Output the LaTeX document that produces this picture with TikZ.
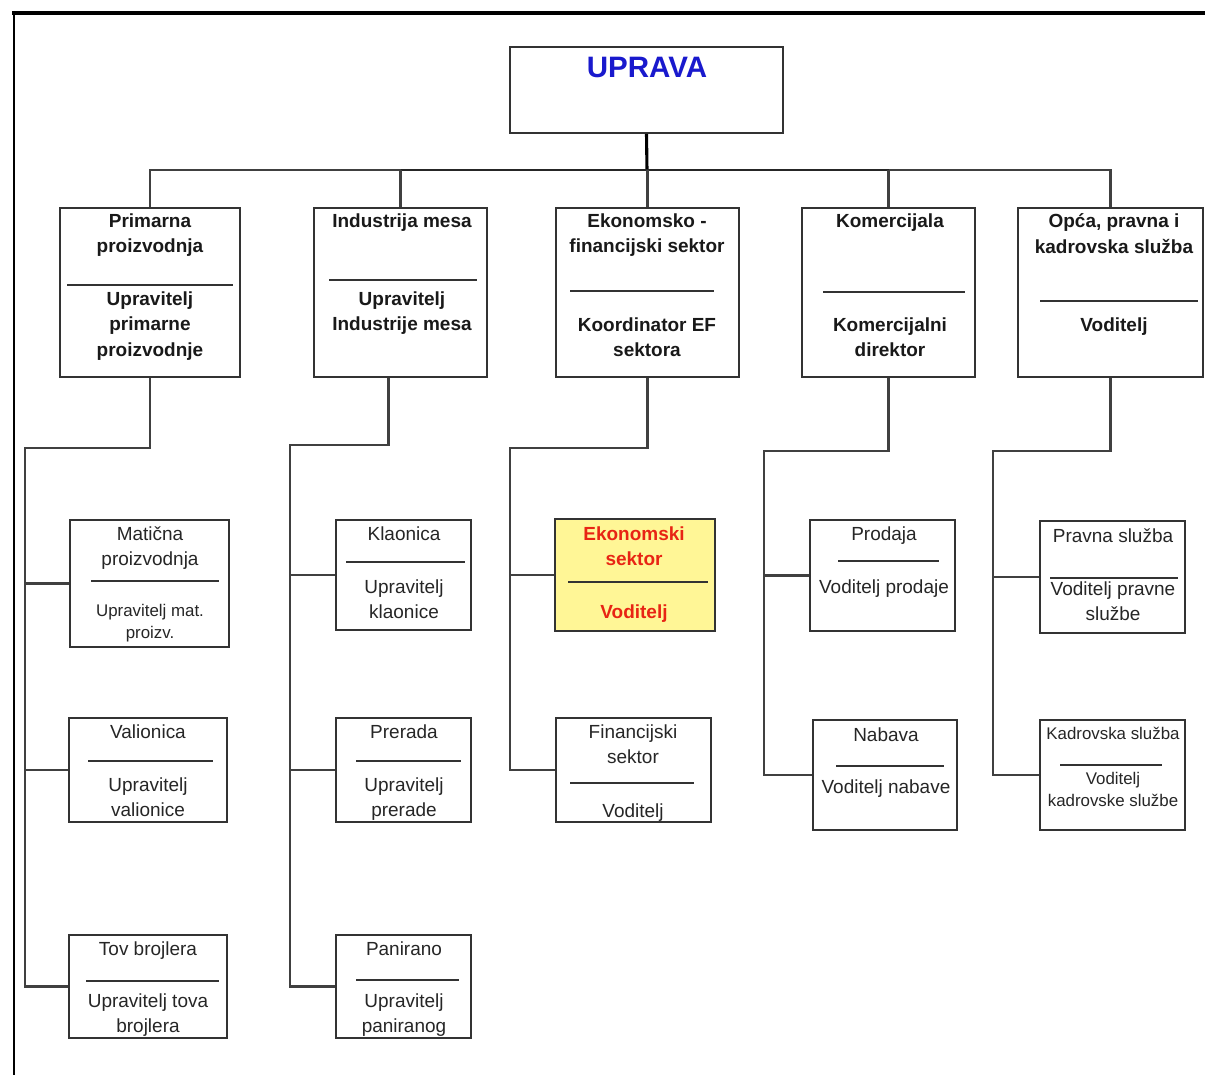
\documentclass[tikz,border=0pt]{standalone}
\usepackage{fontspec}
\setmainfont{Liberation Sans}
\usetikzlibrary{positioning,calc}

\definecolor{upblue}{RGB}{25,25,205}
\definecolor{ekyellow}{RGB}{255,246,150}
\definecolor{ekred}{RGB}{232,36,20}

\begin{document}
\begin{tikzpicture}[
    x=0.025cm, y=-0.025cm,
    box/.style={rectangle, draw=black!80, line width=1.2pt, inner sep=0pt, fill=white},
    lvl1/.style={box, minimum height=4.225cm},
    head/.style={font=\bfseries\fontsize{13.5}{18.4}\selectfont, align=center, inner sep=0pt, anchor=north, text=black!90},
    txt/.style={font=\fontsize{13.5}{18.4}\selectfont, align=center, inner sep=0pt, anchor=north, text=black!85},
    small/.style={txt, font=\fontsize{12}{15.6}\selectfont},
    rule/.style={line width=1.1pt, black!80},
    link/.style={line width=1.5pt, black!75}
]
\useasboundingbox (0,0) rectangle (1205,1075);

% page frame
\draw[line width=3pt] (12,13) -- (1205,13);
\draw[line width=1.5pt] (14,12) -- (14,1075);

% Top: management
\node[box, minimum width=6.825cm, minimum height=2.15cm] (uprava) at (646.5,90) {};
\node[head, font=\bfseries\fontsize{21}{25}\selectfont, text=upblue] (uprava-t) at (647,57) {UPRAVA};

% Level 1: sectors
\node[lvl1, minimum width=4.5cm] (prim) at (150,292.5) {};
\node[lvl1, minimum width=4.325cm] (ind) at (400.5,292.5) {};
\node[lvl1, minimum width=4.575cm] (ekof) at (647.5,292.5) {};
\node[lvl1, minimum width=4.325cm] (kom) at (888.5,292.5) {};
\node[lvl1, minimum width=4.625cm] (opca) at (1110.5,292.5) {};

\node[head] (prim-t) at (150,213) {Primarna\\proizvodnja};
\draw[rule] (67,285) -- (233,285);
\node[head] (prim-b) at (150,291) {Upravitelj\\primarne\\proizvodnje};

\node[head] (ind-t) at (402,213) {Industrija mesa};
\draw[rule] (329,280) -- (477,280);
\node[head] (ind-b) at (402,291) {Upravitelj\\Industrije mesa};

\node[head] (ekof-t) at (647,213) {Ekonomsko -\\financijski sektor};
\draw[rule] (570,291) -- (714,291);
\node[head] (ekof-b) at (647,317) {Koordinator EF\\sektora};

\node[head] (kom-t) at (890,213) {Komercijala};
\draw[rule] (823,292) -- (965,292);
\node[head] (kom-b) at (890,317) {Komercijalni\\direktor};

\node[head] (opca-t) at (1114,213) {Opća, pravna i\\kadrovska služba};
\draw[rule] (1040,301) -- (1198,301);
\node[head] (opca-b) at (1114,317) {Voditelj};

% Level 2: Primarna proizvodnja
\node[box, minimum width=3.975cm, minimum height=3.175cm] (mat) at (149.5,583.5) {};
\node[txt] (mat-t) at (150,526) {Matična\\proizvodnja};
\draw[rule] (91,581) -- (219,581);
\node[small] (mat-b) at (150,604) {Upravitelj mat.\\proizv.};

\node[box, minimum width=3.95cm, minimum height=2.6cm] (val) at (148,770) {};
\node[txt] (val-t) at (148,724) {Valionica};
\draw[rule] (88,761) -- (213,761);
\node[txt] (val-b) at (148,777) {Upravitelj\\valionice};

\node[box, minimum width=3.95cm, minimum height=2.575cm] (tov) at (148,986.5) {};
\node[txt] (tov-t) at (148,941) {Tov brojlera};
\draw[rule] (86,981) -- (219,981);
\node[txt] (tov-b) at (148,993) {Upravitelj tova\\brojlera};

% Level 2: Industrija mesa
\node[box, minimum width=3.375cm, minimum height=2.75cm] (kla) at (403.5,575) {};
\node[txt] (kla-t) at (404,526) {Klaonica};
\draw[rule] (346,562) -- (465,562);
\node[txt] (kla-b) at (404,579) {Upravitelj\\klaonice};

\node[box, minimum width=3.375cm, minimum height=2.6cm] (prer) at (403.5,770) {};
\node[txt] (prer-t) at (404,724) {Prerada};
\draw[rule] (356,761) -- (461,761);
\node[txt] (prer-b) at (404,777) {Upravitelj\\prerade};

\node[box, minimum width=3.375cm, minimum height=2.575cm] (pan) at (403.5,986.5) {};
\node[txt] (pan-t) at (404,941) {Panirano};
\draw[rule] (356,980) -- (459,980);
\node[txt] (pan-b) at (404,993) {Upravitelj\\paniranog};

% Level 2: Ekonomsko - financijski sektor
\node[box, fill=ekyellow, minimum width=4cm, minimum height=2.8cm] (eks) at (635,575) {};
\node[head, text=ekred] (eks-t) at (634,526) {Ekonomski\\sektor};
\draw[rule] (568,582) -- (708,582);
\node[head, text=ekred] (eks-b) at (634,604) {Voditelj};

\node[box, minimum width=3.875cm, minimum height=2.6cm] (fin) at (633.5,770) {};
\node[txt] (fin-t) at (633,724) {Financijski\\sektor};
\draw[rule] (570,783) -- (694,783);
\node[txt] (fin-b) at (633,803) {Voditelj};

% Level 2: Komercijala
\node[box, minimum width=3.625cm, minimum height=2.775cm] (prod) at (882.5,575.5) {};
\node[txt] (prod-t) at (884,526) {Prodaja};
\draw[rule] (838,561) -- (939,561);
\node[txt] (prod-b) at (884,579) {Voditelj prodaje};

\node[box, minimum width=3.6cm, minimum height=2.75cm] (nab) at (885,775) {};
\node[txt] (nab-t) at (886,727) {Nabava};
\draw[rule] (836,766) -- (944,766);
\node[txt] (nab-b) at (886,779) {Voditelj nabave};

% Level 2: Opca, pravna i kadrovska sluzba
\node[box, minimum width=3.625cm, minimum height=2.8cm] (prav) at (1112.5,577) {};
\node[txt] (prav-t) at (1113,528) {Pravna služba};
\draw[rule] (1050,578) -- (1178,578);
\node[txt] (prav-b) at (1113,581) {Voditelj pravne\\službe};

\node[box, minimum width=3.625cm, minimum height=2.75cm] (kad) at (1112.5,775) {};
\node[small] (kad-t) at (1113,727) {Kadrovska služba};
\draw[rule] (1060,765) -- (1162,765);
\node[small] (kad-b) at (1113,772) {Voditelj\\kadrovske službe};

% Connectors: management to sectors
\coordinate (bus) at (647,170);
\draw[link, line width=2.2pt, black] (uprava.south) -- (bus);
\draw[link] (prim.north) |- (bus) -| (opca.north);
\draw[link, line width=2pt, black!85] (ind.north |- bus) -- (kom.north |- bus);
\foreach \s in {ind,ekof,kom}
    \draw[link] (\s.north) -- (\s.north |- bus);

% Connectors: sectors to departments
\coordinate (primtrunk) at (25,448);
\draw[link] (prim.south) |- (primtrunk) |- (tov.west);
\draw[link] (mat.west) -- (mat.west -| primtrunk);
\draw[link] (val.west) -- (val.west -| primtrunk);

\coordinate (indtrunk) at (290,445);
\draw[link] ([xshift=-0.3cm]ind.south) |- (indtrunk) |- (pan.west);
\draw[link] (kla.west) -- (kla.west -| indtrunk);
\draw[link] (prer.west) -- (prer.west -| indtrunk);

\coordinate (ekoftrunk) at (510,448);
\draw[link] (ekof.south) |- (ekoftrunk) |- (fin.west);
\draw[link] (eks.west) -- (eks.west -| ekoftrunk);

\coordinate (komtrunk) at (764,451);
\draw[link] (kom.south) |- (komtrunk) |- (nab.west);
\draw[link] (prod.west) -- (prod.west -| komtrunk);

\coordinate (opcatrunk) at (993,451);
\draw[link] (opca.south) |- (opcatrunk) |- (kad.west);
\draw[link] (prav.west) -- (prav.west -| opcatrunk);

\end{tikzpicture}
\end{document}
